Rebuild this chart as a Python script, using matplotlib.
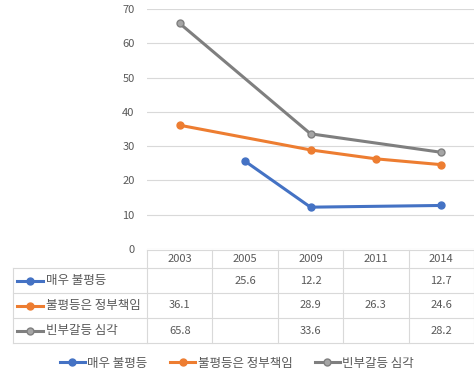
"""Excel-style line chart with a data table below"""

import numpy as np
import matplotlib
matplotlib.use("Agg")
import matplotlib.pyplot as plt
from matplotlib.lines import Line2D
from matplotlib.transforms import blended_transform_factory

plt.rcParams["font.family"] = ["Noto Sans CJK KR", "DejaVu Sans"]

years = ["2003", "2005", "2009", "2011", "2014"]
series_names = ["매우 불평등", "불평등은 정부책임", "빈부갈등 심각"]
very_unequal = [np.nan, 25.6, 12.2, np.nan, 12.7]
gov_responsible = [36.1, np.nan, 28.9, 26.3, 24.6]
rich_poor_conflict = [65.8, np.nan, 33.6, np.nan, 28.2]

all_values = [very_unequal, gov_responsible, rich_poor_conflict]
line_colors = ["#4472C4", "#ED7D31", "#7F7F7F"]
marker_faces = ["#4472C4", "#ED7D31", "#A5A5A5"]
text_color = "#595959"
grid_color = "#D9D9D9"

W, H = 474, 385
fig = plt.figure(figsize=(W / 100, H / 100), dpi=100)


def fx(x):
    return x / W


def fy(y):
    return 1 - y / H


ax = fig.add_axes([fx(147), fy(249), fx(474) - fx(147), fy(9) - fy(249)])
x = np.arange(len(years))

for vals, col, face in zip(all_values, line_colors, marker_faces):
    v = np.array(vals, dtype=float)
    ok = ~np.isnan(v)
    ax.plot(x[ok], v[ok], color=col, lw=2.2, marker="o", ms=5,
            mfc=face, mec=col, mew=1, solid_capstyle="round", zorder=3)

ax.set_xlim(-0.5, len(years) - 0.5)
ax.set_ylim(0, 70)
ax.set_yticks(range(0, 71, 10))
ax.set_xticks([])
ax.grid(axis="y", color=grid_color, lw=0.8)
ax.set_axisbelow(True)
for s in ax.spines.values():
    s.set_visible(False)
ax.tick_params(axis="y", length=0, pad=9, labelsize=8, labelcolor=text_color)

# data table under the plot
tr = blended_transform_factory(ax.transData, fig.transFigure)
ft = fig.transFigure
x_left = -0.5
x_right = len(years) - 0.5
row_lines = [250, 268, 293, 318, 343]

fig.add_artist(Line2D([x_left, x_right], [fy(250)] * 2, transform=tr, color=grid_color, lw=0.8))
for yl in row_lines[1:]:
    fig.add_artist(Line2D([fx(13), fx(147)], [fy(yl)] * 2, transform=ft, color=grid_color, lw=0.8))
    fig.add_artist(Line2D([x_left, x_right], [fy(yl)] * 2, transform=tr, color=grid_color, lw=0.8))
fig.add_artist(Line2D([fx(13), fx(13)], [fy(268), fy(343)], transform=ft, color=grid_color, lw=0.8))
for i in range(len(years) + 1):
    xb = i - 0.5
    fig.add_artist(Line2D([xb, xb], [fy(250), fy(343)], transform=tr, color=grid_color, lw=0.8))

for i, yr in enumerate(years):
    fig.text(i, fy(259), yr, transform=tr, ha="center", va="center",
             fontsize=8, color=text_color)

for r, (name, vals, col, face) in enumerate(zip(series_names, all_values, line_colors, marker_faces)):
    yc = fy(280.5 + 25 * r)
    fig.add_artist(Line2D([fx(17), fx(43)], [yc, yc], transform=ft, color=col, lw=2.2))
    fig.add_artist(Line2D([fx(30)], [yc], transform=ft, marker="o", ms=5,
                          mfc=face, mec=col, mew=1))
    fig.text(fx(46), yc, name, ha="left", va="center", fontsize=9, color=text_color)
    for i, v in enumerate(vals):
        if not np.isnan(v):
            fig.text(i, yc, f"{v:.1f}", transform=tr, ha="center", va="center",
                     fontsize=8, color=text_color)

handles = [Line2D([], [], color=c, lw=2.2, marker="o", ms=5, mfc=f, mec=c, mew=1)
           for c, f in zip(line_colors, marker_faces)]
fig.legend(handles, series_names, loc="center", bbox_to_anchor=(0.5, fy(363)),
           ncol=3, frameon=False, fontsize=9, labelcolor=text_color,
           handlelength=2.0, columnspacing=1.8, handletextpad=0.2)

fig.savefig("out.png", dpi=100, facecolor="white")
